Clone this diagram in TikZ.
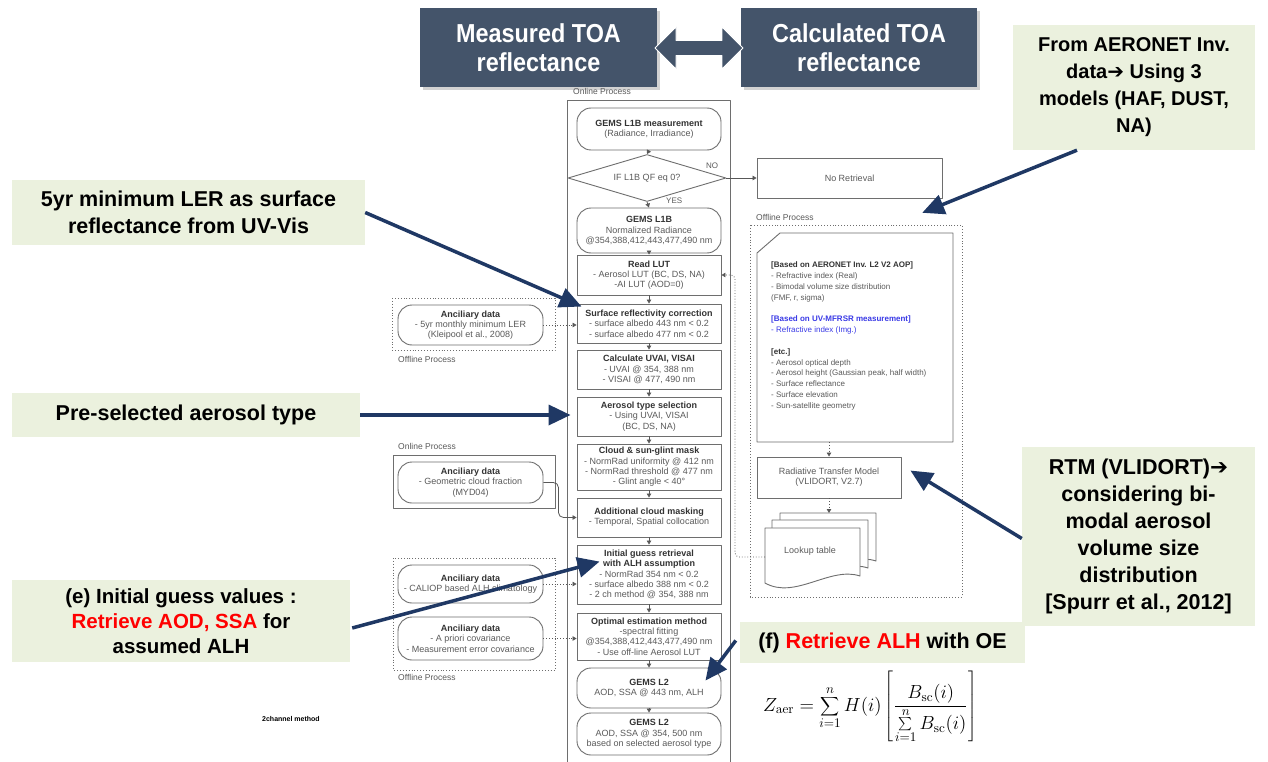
\documentclass[tikz,border=0pt]{standalone}
\usepackage[no-math]{fontspec}
\setmainfont{Liberation Sans}
\newfontfamily\narrowfont[FakeStretch=0.9]{Liberation Sans}
\newfontfamily\arrowfont{DejaVu Sans}
\usetikzlibrary{arrows.meta,shapes.geometric,shapes.arrows,shadows,calc}
\definecolor{topdark}{HTML}{44546A}
\definecolor{callfill}{HTML}{EBF1DE}
\definecolor{navy}{HTML}{1F3864}
\definecolor{flowline}{HTML}{6E6E6E}
\definecolor{flowtext}{HTML}{5A5A5A}
\definecolor{flowhead}{HTML}{333333}
\definecolor{docblue}{HTML}{3A3AE6}
\definecolor{calred}{HTML}{FF0000}
\newcommand\fhd[1]{{\bfseries\color{flowhead}#1}}
\newcommand\thickarrow{{\arrowfont\bfseries ➔}}
\tikzset{
  flowbox/.style={draw=flowline, line width=0.9pt, minimum width=144pt, inner sep=1pt,
    align=center, text=flowtext, font=\fontsize{9}{10.3}\selectfont},
  roundbox/.style={flowbox, rounded corners=14pt},
  flowarrow/.style={draw=flowline!80!black, line width=0.8pt, -{Triangle[length=4pt,width=4.5pt]}},
  dotarrow/.style={flowarrow, dotted},
  groupdot/.style={draw=flowline, dotted, line width=0.9pt},
  callout/.style={fill=callfill, align=center, inner sep=0pt,
    font=\bfseries\fontsize{21.5}{27}\selectfont},
  topbox/.style={fill=topdark, text=white, align=center, inner sep=0pt,
    drop shadow={opacity=0.35, shadow xshift=3pt, shadow yshift=-3pt},
    font=\narrowfont\bfseries\fontsize{26}{29}\selectfont},
  bigarrow/.style={draw=navy, line width=3.5pt, -{Triangle[length=22pt,width=20pt]}},
  smalllabel/.style={anchor=west, inner sep=0pt, text=flowtext, font=\fontsize{8.5}{10}\selectfont},
  pagestyle/.style={draw=flowline, line width=0.9pt, fill=white}
}
\begin{document}
\begin{tikzpicture}[x=1pt,y=-1pt,line join=round]
\useasboundingbox[fill=white] (0,0) rectangle (1268,762);

% ---------- top boxes ----------
\node[topbox, minimum width=237pt, minimum height=79pt] (mtoa) at (538.5,47.5) {Measured TOA\\reflectance};
\node[topbox, minimum width=236pt, minimum height=79pt] (ctoa) at (859,47.5) {Calculated TOA\\reflectance};
\node[double arrow, fill=topdark, draw=white, line width=0.8pt, minimum height=88pt, minimum width=42pt,
      inner sep=7pt, double arrow head extend=13pt] (dbl) at (699,48) {};

% ---------- online process column ----------
\node[smalllabel] (onl1) at (573,91) {Online Process};
\draw[draw=flowline, line width=0.9pt] (567,100) rectangle (730,766);

\node[roundbox, minimum height=42pt] (m1) at (649,129) {\fhd{GEMS L1B measurement}\\(Radiance, Irradiance)};
\node[diamond, draw=flowline, line width=0.9pt, aspect=3.3, minimum width=158pt, minimum height=47pt,
      inner sep=0pt, text=flowtext, font=\fontsize{9}{10.3}\selectfont] (dia) at (647,178) {IF L1B QF eq 0?};
\node[roundbox, minimum height=45pt] (m2) at (649,230.5) {\fhd{GEMS L1B}\\Normalized Radiance\\@354,388,412,443,477,490 nm};
\node[flowbox, minimum height=40pt] (rlut) at (649,275) {\fhd{Read LUT}\\- Aerosol LUT (BC, DS, NA)\\-AI LUT (AOD=0)};
\node[flowbox, minimum height=39pt] (surf) at (649,323.5) {\fhd{Surface reflectivity correction}\\- surface albedo 443 nm < 0.2\\- surface albedo 477 nm < 0.2};
\node[flowbox, minimum height=39pt] (uvai) at (649,369.5) {\fhd{Calculate UVAI, VISAI}\\- UVAI @ 354, 388 nm\\- VISAI @ 477, 490 nm};
\node[flowbox, minimum height=39pt] (aer) at (649,416.5) {\fhd{Aerosol type selection}\\- Using UVAI, VISAI\\(BC, DS, NA)};
\node[flowbox, minimum height=46pt] (cld) at (649,467) {\fhd{Cloud \& sun-glint mask}\\- NormRad uniformity @ 412 nm\\- NormRad threshold @ 477 nm\\- Glint angle < 40°};
\node[flowbox, minimum height=39pt] (addc) at (649,517.5) {\fhd{Additional cloud masking}\\- Temporal, Spatial collocation};
\node[flowbox, minimum height=59pt] (init) at (649,574.5) {\fhd{Initial guess retrieval}\\\fhd{with ALH assumption}\\- NormRad 354 nm < 0.2\\- surface albedo 388 nm < 0.2\\- 2 ch method @ 354, 388 nm};
\node[flowbox, minimum height=47pt] (opt) at (649,636.5) {\fhd{Optimal estimation method}\\-spectral fitting\\@354,388,412,443,477,490 nm\\- Use off-line Aerosol LUT};
\node[roundbox, minimum height=40pt] (l2a) at (649,688) {\fhd{GEMS L2}\\AOD, SSA @ 443 nm, ALH};
\node[roundbox, minimum height=42pt] (l2b) at (649,734) {\fhd{GEMS L2}\\AOD, SSA @ 354, 500 nm\\based on selected aerosol type};

\foreach \a/\b in {m1/dia, dia/m2, m2/rlut, rlut/surf, surf/uvai, uvai/aer, aer/cld, cld/addc, addc/init, init/opt, opt/l2a, l2a/l2b}
  \draw[flowarrow] (\a.south) -- (\b.north);

\node[smalllabel, font=\fontsize{8}{9}\selectfont] (nolab) at (706,166) {NO};
\node[smalllabel, font=\fontsize{8}{9}\selectfont] (yeslab) at (666,201) {YES};

\node[flowbox, minimum width=185pt, minimum height=40pt] (nor) at (849.5,178) {No Retrieval};
\draw[flowarrow] (dia.east) -- (nor.west);

% ---------- offline process (right) ----------
\node[smalllabel] (offr) at (756,217) {Offline Process};
\draw[groupdot] (750,225) rectangle (962,597);
\node[inner sep=0pt, minimum width=196pt, minimum height=209pt] (doc) at (855,337.5) {};
\draw[draw=flowline, line width=0.9pt] (780,233) -- (953,233) -- (953,442) -- (757,442) -- (757,253) -- cycle;
\node[anchor=north west, align=left, inner sep=0pt, text=flowtext, font=\fontsize{8}{10.8}\selectfont] (doctext) at (771,262)
 {\fhd{[Based on AERONET Inv. L2 V2 AOP]}\\
  - Refractive index (Real)\\
  - Bimodal volume size distribution\\
  (FMF, r, sigma)\\[10.8pt]
  {\color{docblue}\bfseries [Based on UV-MFRSR measurement]}\\
  {\color{docblue}- Refractive index (Img.)}\\[10.8pt]
  \fhd{[etc.]}\\
  - Aerosol optical depth\\
  - Aerosol height (Gaussian peak, half width)\\
  - Surface reflectance\\
  - Surface elevation\\
  - Sun-satellite geometry};
\node[flowbox, minimum height=41pt] (rtm) at (829,477.5) {Radiative Transfer Model\\(VLIDORT, V2.7)};
\draw[dotarrow] (doc.south -| rtm.north) -- (rtm.north);

% lookup table stack
\draw[pagestyle] (780,568) -- (780,513) -- (876,513) -- (876,561) .. controls (846,551) and (811,585) .. (780,568) -- cycle;
\draw[pagestyle] (772,575) -- (772,520) -- (868,520) -- (868,568) .. controls (838,558) and (803,592) .. (772,575) -- cycle;
\draw[pagestyle] (765,583) -- (765,528) -- (860,528) -- (860,576) .. controls (830,566) and (795,600) .. (765,583) -- cycle;
\node[text=flowtext, font=\fontsize{9}{10}\selectfont] (lkp) at (810,551) {Lookup table};
\coordinate (lktop) at (829,513);
\coordinate (lkw) at (765,557);
\draw[dotarrow] (rtm.south) -- (lktop);
\draw[dotarrow, rounded corners=4pt] (lkw) -- (735,557) -- (735,275) -- (rlut.east);

% ---------- left ancillary data ----------
\draw[groupdot] (392,298) rectangle (555,350);
\node[roundbox, minimum width=145pt, minimum height=40pt] (ler) at (470.5,325) {\fhd{Anciliary data}\\- 5yr monthly minimum LER\\(Kleipool et al., 2008)};
\node[smalllabel] (offl1) at (398,359) {Offline Process};
\draw[dotarrow] (ler.east) -- (ler.east -| surf.west);

\node[smalllabel] (onl2) at (398,446) {Online Process};
\draw[draw=flowline, line width=0.9pt] (393,455) rectangle (555,508);
\node[roundbox, minimum width=145pt, minimum height=41pt] (geo) at (470.5,482.5) {\fhd{Anciliary data}\\- Geometric cloud fraction\\(MYD04)};
\draw[flowarrow, rounded corners=5pt] (geo.east) -- ++(15,0) |- (addc.west);

\draw[groupdot] (393,558) rectangle (555,670);
\node[roundbox, minimum width=145pt, minimum height=38pt] (cal) at (470.5,584) {\fhd{Anciliary data}\\- CALIOP based ALH climatology};
\node[roundbox, minimum width=145pt, minimum height=43pt] (apr) at (470.5,638.5) {\fhd{Anciliary data}\\- A priori covariance\\- Measurement error covariance};
\node[smalllabel] (offl2) at (398,677) {Offline Process};
\draw[dotarrow] (cal.east) -- (cal.east -| init.west);
\draw[dotarrow] (apr.east) -- (apr.east -| opt.west);

\node[anchor=west, inner sep=0pt, font=\bfseries\fontsize{7}{9}\selectfont] (twoch) at (262,719) {2channel method};

% ---------- formula ----------
\node[font=\fontsize{14.4}{17}\selectfont, scale=1.32] (form) at (870,707)
  {$\displaystyle Z_{\mathrm{aer}} = \sum_{i=1}^{n} H(i)\left[\frac{B_{\mathrm{sc}}(i)}{\sum\limits_{i=1}^{n} B_{\mathrm{sc}}(i)}\right]$};

% ---------- callouts ----------
\node[callout, font=\bfseries\fontsize{20}{27}\selectfont, minimum width=242pt, minimum height=125pt] (c1) at (1134,87.5) {From AERONET Inv.\\data\thickarrow{} Using 3\\models (HAF, DUST,\\NA)};
\node[callout, minimum width=353pt, minimum height=65pt] (c2) at (188.5,212.5) {5yr minimum LER as surface\\reflectance from UV-Vis};
\node[callout, minimum width=348pt, minimum height=44pt] (c3) at (186,415) {Pre-selected aerosol type};
\node[callout, minimum width=233pt, minimum height=179pt] (c4) at (1138.5,536.5) {RTM (VLIDORT)\thickarrow\\considering bi-\\modal aerosol\\volume size\\distribution\\{[Spurr et al., 2012]}};
\node[callout, font=\bfseries\fontsize{20.5}{25}\selectfont, minimum width=338pt, minimum height=82pt] (c5) at (181,621) {(e) Initial guess values :\\{\color{calred}Retrieve AOD, SSA} for\\assumed ALH};
\node[callout, minimum width=285pt, minimum height=41pt] (c6) at (882.5,642.5) {(f) {\color{calred}Retrieve ALH} with OE};

% ---------- navy arrows ----------
\draw[bigarrow] ($(c1.south)+(-57,0)$) -- ($(doc.north east)+(-31,-20)$);
\draw[bigarrow] (c2.east) -- ($(surf.north west)+(5,3)$);
\draw[bigarrow] (c3.east) -- ($(aer.west)+(-6,-1.5)$);
\draw[bigarrow] ($(c4.west)+(0,2)$) -- ($(rtm.north east)+(9,14)$);
\draw[bigarrow] ($(c5.east)+(2,7)$) -- ($(init.north west)+(23,17)$);
\draw[bigarrow] ($(c6.west)+(-4,-2)$) -- ($(l2a.north east)+(-16,13)$);
\end{tikzpicture}
\end{document}
